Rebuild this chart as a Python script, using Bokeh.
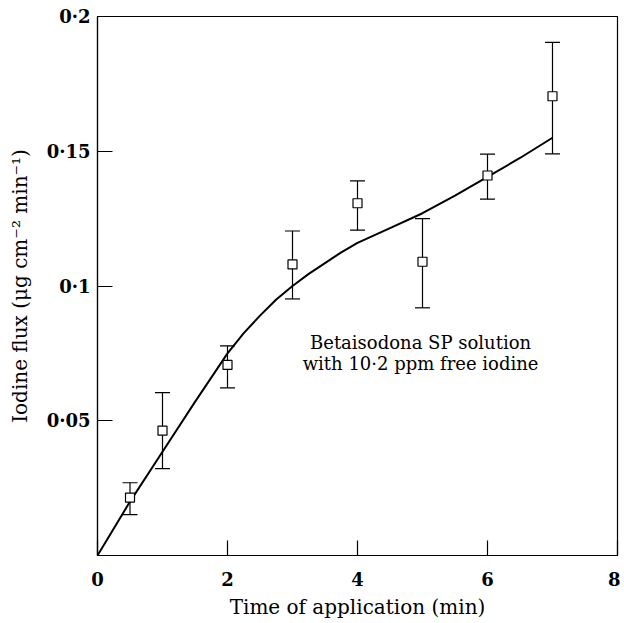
from bokeh.plotting import figure
from bokeh.models import FixedTicker, CustomJSTickFormatter, Whisker, ColumnDataSource, Label, Range1d
from bokeh.embed import file_html
from bokeh.resources import INLINE

# Measured data (time in min, iodine flux)
time_pts = [0.5, 1.0, 2.0, 3.0, 4.0, 5.0, 6.0, 7.0]
flux_pts = [0.0215, 0.0463, 0.0707, 0.108, 0.1307, 0.109, 0.141, 0.1704]
flux_lo = [0.0152, 0.0322, 0.0622, 0.0952, 0.1207, 0.0919, 0.1322, 0.149]
flux_hi = [0.027, 0.0604, 0.0778, 0.1204, 0.139, 0.125, 0.1489, 0.1904]

# Fitted curve
curve_t = [0, 0.5, 1.0, 1.5, 2.0, 2.25, 2.5, 2.75, 3.0, 3.25, 3.5, 3.75, 4.0, 4.5, 5.0, 5.5, 6.0, 6.5, 7.0]
curve_f = [0.0, 0.0200, 0.0385, 0.0570, 0.0750, 0.0825, 0.0890, 0.0950, 0.1000, 0.1045, 0.1085, 0.1125, 0.1160,
           0.1215, 0.1270, 0.1335, 0.1405, 0.1475, 0.1550]

x_ticks = [0, 2, 4, 6, 8]
y_ticks = [0.05, 0.1, 0.15, 0.2]

FONT = "DejaVu Serif"

p = figure(frame_width=520, frame_height=539, output_backend="svg", toolbar_location=None,
           x_range=Range1d(0, 8), y_range=Range1d(0, 0.2),
           min_border_left=97, min_border_right=3, min_border_top=16, min_border_bottom=60)
p.grid.visible = False
p.outline_line_color = "black"
p.outline_line_width = 1.2
p.background_fill_color = "white"

for ax in (p.xaxis[0], p.yaxis[0]):
    ax.major_tick_in = 15
    ax.major_tick_out = 0
    ax.minor_tick_in = 0
    ax.minor_tick_out = 0
    ax.axis_line_color = "black"
    ax.axis_line_width = 1.2
    ax.major_tick_line_color = "black"
    ax.major_tick_line_width = 1.2
    ax.major_label_text_font = FONT
    ax.major_label_text_font_size = "18px"
    ax.major_label_text_font_style = "bold"
    ax.major_label_text_color = "black"
    ax.axis_label_text_font = FONT
    ax.axis_label_text_font_size = "20px"
    ax.axis_label_text_font_style = "normal"
    ax.axis_label_text_color = "black"
    ax.formatter = CustomJSTickFormatter(code="return String(tick).replace('.', '\u00b7');")

p.xaxis[0].ticker = FixedTicker(ticks=x_ticks)
p.yaxis[0].ticker = FixedTicker(ticks=y_ticks)
p.xaxis[0].major_label_standoff = 16
p.yaxis[0].major_label_standoff = 7
p.xaxis[0].axis_label = "Time of application (min)"
p.yaxis[0].axis_label = "Iodine flux (\u03bcg cm\u207b\u00b2 min\u207b\u00b9)"
p.xaxis[0].axis_label_standoff = 6
p.yaxis[0].axis_label_standoff = 12

p.line(curve_t, curve_f, line_color="black", line_width=2)

src = ColumnDataSource(dict(x=time_pts, y=flux_pts, lo=flux_lo, hi=flux_hi))
w = Whisker(source=src, base="x", lower="lo", upper="hi", line_color="black", line_width=1.2)
w.upper_head.size = 15
w.lower_head.size = 15
w.upper_head.line_color = "black"
w.lower_head.line_color = "black"
w.upper_head.line_width = 1.2
w.lower_head.line_width = 1.2
p.add_layout(w)
p.scatter("x", "y", source=src, marker="square", size=9, fill_color="white",
          line_color="black", line_width=1.2)

p.add_layout(Label(x=4.97, y=0.0789, text="Betaisodona SP solution", text_font=FONT,
                   text_font_size="18px", text_align="center", text_baseline="alphabetic",
                   text_color="black"))
p.add_layout(Label(x=4.97, y=0.0711, text="with 10\u00b72 ppm free iodine", text_font=FONT,
                   text_font_size="18px", text_align="center", text_baseline="alphabetic",
                   text_color="black"))

open("out.html", "w").write(file_html(p, INLINE))
